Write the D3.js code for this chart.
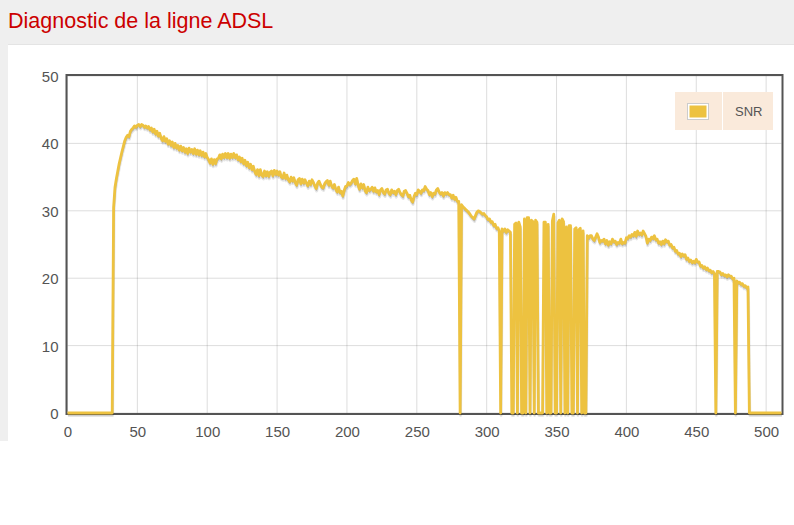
<!DOCTYPE html>
<html>
<head>
<meta charset="utf-8">
<script src="https://cdn.jsdelivr.net/npm/d3@7"></script>
<style>
html,body{margin:0;padding:0;background:#fff;}
svg{display:block;font-family:"Liberation Sans",Arial,sans-serif;}
</style>
</head>
<body>
<svg id="chart" width="794" height="525"></svg>
<script>
// ---- data ----
const title = "Diagnostic de la ligne ADSL";
const seriesName = "SNR";
const xTicks = [0, 50, 100, 150, 200, 250, 300, 350, 400, 450, 500];
const yTicks = [0, 10, 20, 30, 40, 50];
// SNR per tone (0..511)
const snr = [
// 0
0,0,0,0,0,0,0,0,0,0,
// 10
0,0,0,0,0,0,0,0,0,0,
// 20
0,0,0,0,0,0,0,0,0,0,
// 30
0,0,0,30.5,33.5,34.8,35.9,37.0,37.9,38.8,
// 40
39.6,40.4,40.9,41.2,41.0,41.8,42.1,42.3,42.6,42.4,
// 50
42.7,42.8,42.5,42.8,42.7,42.4,42.6,42.3,42.5,42.0,
// 60
42.3,41.7,42.1,41.4,41.8,41.1,41.5,40.8,40.4,41.0,
// 70
40.3,40.7,39.9,40.4,39.7,40.2,39.4,40.0,39.3,39.7,
// 80
39.0,39.6,38.9,39.4,38.7,39.2,38.5,39.3,38.7,39.1,
// 90
38.5,39.2,38.4,39.0,38.3,38.9,38.2,38.7,38.0,38.5,
// 100
37.9,37.6,37.1,37.7,36.9,37.6,37.0,37.7,37.8,38.3,
// 110
37.7,38.4,37.9,38.5,37.9,38.5,37.8,38.4,37.9,38.5,
// 120
37.9,38.3,37.6,38.0,37.3,37.8,37.0,37.5,36.7,37.2,
// 130
36.4,36.9,36.1,36.6,35.8,35.4,36.1,35.2,36.1,35.3,
// 140
35.1,35.9,35.2,35.8,35.1,35.7,35.9,35.2,36.0,35.4,
// 150
35.9,35.3,35.8,35.0,34.9,35.6,34.8,35.3,34.6,34.3,
// 160
35.0,34.4,34.9,34.2,33.8,34.6,34.8,34.0,34.7,34.1,
// 170
34.6,34.1,33.7,34.4,33.9,34.6,34.2,33.7,33.3,34.1,
// 180
34.4,33.9,33.5,33.4,34.0,34.3,34.5,33.8,34.4,33.7,
// 190
33.4,33.9,33.2,32.8,33.5,32.7,32.9,32.2,33.0,33.6,
// 200
33.7,34.2,33.9,34.1,34.5,34.7,34.0,34.8,33.8,33.2,
// 210
34.0,33.4,33.9,33.0,32.7,33.5,33.0,33.2,33.5,32.9,
// 220
33.4,32.8,33.0,32.4,33.1,33.3,32.7,32.5,33.1,33.2,
// 230
32.6,32.4,33.1,32.7,32.9,32.4,33.0,33.2,32.7,32.4,
// 240
32.2,32.9,33.0,32.6,32.1,32.3,31.6,31.3,32.1,32.6,
// 250
32.4,33.1,32.9,32.6,33.1,33.0,33.6,33.2,33.0,32.4,
// 260
32.7,32.1,32.6,32.5,33.1,33.3,32.8,32.5,32.7,32.2,
// 270
32.7,32.5,32.7,32.4,32.4,31.9,32.3,31.7,32.0,31.4,
// 280
31.4,0,30.9,30.6,30.4,30.2,30.0,29.8,29.5,29.2,
// 290
29.0,28.8,29.3,29.8,30.0,29.9,29.7,29.5,29.6,29.3,
// 300
29.1,28.7,28.8,28.3,28.4,27.8,28.0,27.4,27.5,27.0,
// 310
0,27.3,27.0,27.3,26.8,27.2,27.0,26.8,0,0,
// 320
28.0,28.2,0,28.3,27.6,0,0,28.8,0,29.0,
// 330
29.0,0,28.6,28.4,0,28.6,28.3,0,0,0,
// 340
0,28.3,28.3,0,28.0,0,0,28.5,29.5,0,
// 350
0,28.2,28.6,0,28.8,28.4,0,27.6,0,27.8,
// 360
27.8,0,0,27.3,27.5,0,27.2,27.4,0,27.0,
// 370
0,0,26.3,26.0,26.3,26.3,25.8,25.6,26.1,26.6,
// 380
26.1,25.3,25.6,25.5,25.8,25.1,25.6,24.9,25.4,25.1,
// 390
25.8,25.4,25.5,25.0,25.3,25.2,25.8,25.1,25.3,25.2,
// 400
26.0,25.9,26.3,26.1,26.5,26.3,26.8,26.2,27.0,26.5,
// 410
26.7,26.4,27.0,26.6,26.2,25.2,25.8,25.6,26.1,25.9,
// 420
26.3,25.7,25.8,25.2,25.4,25.0,25.5,25.1,25.7,25.4,
// 430
25.5,24.9,25.0,24.5,24.6,24.0,24.1,23.6,23.7,23.2,
// 440
23.6,23.3,23.5,22.8,23.0,22.5,22.7,22.3,22.5,22.3,
// 450
22.8,22.4,22.4,21.8,21.9,21.5,21.7,21.3,21.5,21.1,
// 460
21.2,20.8,21.0,20.7,0,21.0,21.0,20.9,20.5,20.7,
// 470
20.4,20.5,20.2,20.5,20.3,20.3,19.9,20.0,0,19.6,
// 480
19.3,19.4,19.1,19.2,18.8,18.9,18.6,18.7,0,0,
// 490
0,0,0,0,0,0,0,0,0,0,
// 500
0,0,0,0,0,0,0,0,0,0,
// 510
0,0
];
const tones = snr.map((v, i) => i);

// ---- drawing ----
const svg = d3.select("#chart");
const lineColor = "#edc240";
const textColor = "#545454";

svg.append("rect").attr("x", 0).attr("y", 0).attr("width", 794).attr("height", 441).attr("fill", "#efefef");
svg.append("rect").attr("x", 8).attr("y", 44).attr("width", 786).attr("height", 1).attr("fill", "#e4e4e4");
svg.append("rect").attr("x", 8).attr("y", 45).attr("width", 786).attr("height", 396).attr("fill", "#ffffff");

svg.append("text").attr("x", 8).attr("y", 27.5)
  .attr("fill", "#cc0000").attr("font-size", "21.5px")
  .text(title);

const x = d3.scaleLinear().domain([0, 511]).range([67.5, 781.5]);
const y = d3.scaleLinear().domain([0, 50]).range([413, 76]);

// grid lines
const grid = svg.append("g");
grid.selectAll("line.v").data(xTicks).join("line")
  .attr("x1", d => x(d)).attr("x2", d => x(d))
  .attr("y1", y(50)).attr("y2", y(0))
  .attr("stroke", "rgba(84,84,84,0.2)").attr("stroke-width", 1);
grid.selectAll("line.h").data(yTicks).join("line")
  .attr("x1", x(0)).attr("x2", x(511))
  .attr("y1", d => y(d)).attr("y2", d => y(d))
  .attr("stroke", "rgba(84,84,84,0.2)").attr("stroke-width", 1);

// border
svg.append("rect").attr("x", 66.5).attr("y", 75).attr("width", 716).attr("height", 339)
  .attr("fill", "none").attr("stroke", textColor).attr("stroke-width", 2);

// axis labels
const xAxis = d3.axisBottom(x).tickValues(xTicks).tickSize(0).tickPadding(0).tickFormat(d3.format("d"));
const gx = svg.append("g").call(xAxis);
gx.select(".domain").remove();
gx.selectAll("text").attr("y", 432).attr("dy", "0.36em")
  .attr("fill", textColor).attr("font-size", "15px").attr("font-family", "Liberation Sans, Arial, sans-serif");

const yAxis = d3.axisLeft(y).tickValues(yTicks).tickSize(0).tickPadding(0).tickFormat(d3.format("d"));
const gy = svg.append("g").call(yAxis);
gy.select(".domain").remove();
gy.selectAll("text").attr("x", 58.5).attr("dy", "0.36em")
  .attr("fill", textColor).attr("font-size", "15px").attr("font-family", "Liberation Sans, Arial, sans-serif");

// data line with flot-like shadow
const line = d3.line().x((d, i) => x(tones[i])).y(d => y(d));
svg.append("path").datum(snr).attr("d", line)
  .attr("transform", "translate(0.43,2.46)")
  .attr("fill", "none").attr("stroke", "rgba(0,0,0,0.1)").attr("stroke-width", 3).attr("stroke-linejoin", "round");
svg.append("path").datum(snr).attr("d", line)
  .attr("transform", "translate(0.3,1.72)")
  .attr("fill", "none").attr("stroke", "rgba(0,0,0,0.2)").attr("stroke-width", 1.5).attr("stroke-linejoin", "round");
svg.append("path").datum(snr).attr("d", line)
  .attr("fill", "none").attr("stroke", lineColor).attr("stroke-width", 2.8).attr("stroke-linejoin", "round");

// legend
const lg = svg.append("g");
lg.append("rect").attr("x", 675).attr("y", 92).attr("width", 47).attr("height", 38).attr("fill", "#faeadb");
lg.append("rect").attr("x", 723).attr("y", 92).attr("width", 50).attr("height", 38).attr("fill", "#faeadb");
lg.append("rect").attr("x", 687.5).attr("y", 103.5).attr("width", 21).attr("height", 16)
  .attr("fill", "#fff").attr("stroke", "#cccccc").attr("stroke-width", 1);
lg.append("rect").attr("x", 689.5).attr("y", 105.5).attr("width", 17).attr("height", 12).attr("fill", lineColor);
lg.append("text").attr("x", 735).attr("y", 111.5).attr("dy", "0.36em")
  .attr("fill", textColor).attr("font-size", "13px").text(seriesName);
</script>
</body>
</html>
